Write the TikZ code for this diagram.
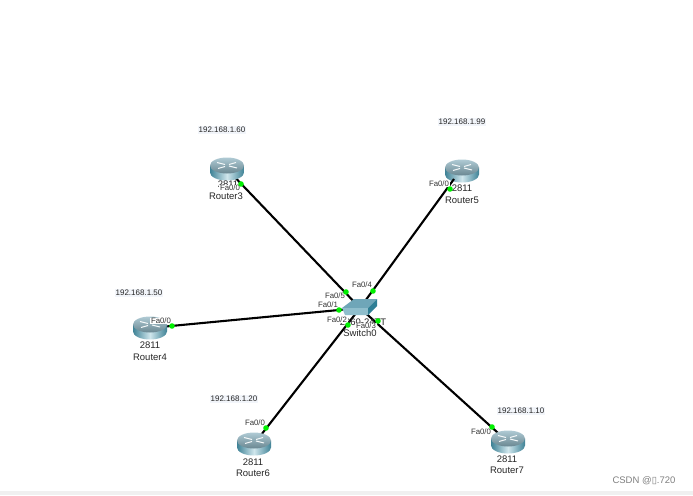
\documentclass[tikz,border=0pt]{standalone}
\usepackage{fontspec}
\setmainfont{Liberation Sans}
\definecolor{linkc}{HTML}{000000}
\definecolor{portc}{HTML}{00F000}
\definecolor{ipbg}{HTML}{F2F5FA}
\definecolor{rtop}{HTML}{8DB4C2}
\definecolor{rdark}{HTML}{3F8296}
\definecolor{rlight}{HTML}{CFE6EC}
\definecolor{swtop}{HTML}{6FA6B8}
\definecolor{swfront}{HTML}{8FBECC}
\definecolor{swside}{HTML}{2F7F95}
\tikzset{
  x=1pt,y=-1pt,
  link/.style={line width=2.1pt,draw=linkc},
  port/.style={circle,fill=portc,inner sep=0pt,minimum size=5.6pt},
  portlabel/.style={font=\fontsize{7.8}{8}\selectfont,text=black!80,fill=white,inner sep=.6pt},
  devlabel/.style={font=\fontsize{9.5}{10}\selectfont,text=black!85,inner sep=0pt},
  iplabel/.style={font=\fontsize{8}{8}\selectfont,text=black!85,fill=ipbg,inner sep=1pt},
  pics/routericon/.style={code={
    \path[left color=rdark,right color=rdark,middle color=rlight]
      (-17,-3.5) -- (-17,3.5) arc[start angle=180,end angle=360,x radius=17,y radius=-8] -- (17,-3.5) -- cycle;
    \path[top color=rtop!70!white,bottom color=rtop!75!black] (0,-3.5) ellipse[x radius=17,y radius=8];
    \draw[white!90!rtop,line width=1pt] (-10,-6.5) -- (-2,-4.5) (10,-1) -- (2,-3) (-9,-.5) -- (-2,-2.5) (9,-6.5) -- (2,-4.5);
  }}
}
\begin{document}
\begin{tikzpicture}
\useasboundingbox (0,0) rectangle (693,495);
\fill[white] (0,0) rectangle (693,495);
\fill[black!6] (0,491) rectangle (693,495);

\coordinate (sw) at (360,308);
\coordinate (c3) at (227,169);
\coordinate (c5) at (462,171);
\coordinate (c4) at (150,328);
\coordinate (c6) at (254,444);
\coordinate (c7) at (508,442);
\coordinate (e5) at (454,179);

% links
\draw[link] (c3) -- (sw);
\draw[link] (c4) -- (sw);
\draw[link] (c6) -- (sw);
\draw[link] (c7) -- (sw);

% routers
\pic at (c3) {routericon};
\pic at (c5) {routericon};
\pic at (c4) {routericon};
\pic at (c6) {routericon};
\pic at (c7) {routericon};
\draw[link] (e5) -- (sw);

% switch
\fill[swtop] (342,308) -- (354,299) -- (377,299) -- (368,308) -- cycle;
\fill[swfront] (342,308) -- (368,308) -- (368,315) -- (345,315) -- cycle;
\fill[swside] (368,308) -- (377,299) -- (377,306) -- (368,315) -- cycle;

% device labels
\node[devlabel] (m3) at (228,184) {2811};
\node[devlabel] (n3) at (226,196) {Router3};
\node[devlabel] (m5) at (462,188) {2811};
\node[devlabel] (n5) at (462,200) {Router5};
\node[devlabel] (m4) at (150,345) {2811};
\node[devlabel] (n4) at (150,357) {Router4};
\node[devlabel] (m6) at (253,462) {2811};
\node[devlabel] (n6) at (253,473) {Router6};
\node[devlabel] (m7) at (507,459) {2811};
\node[devlabel] (n7) at (507,470) {Router7};
\node[devlabel] (msw) at (363,322) {2960-24TT};
\node[devlabel] (nsw) at (360,333) {Switch0};

% port labels
\node[portlabel] (l3) at (230,188) {Fa0/0};
\node[portlabel] (l5) at (439,184) {Fa0/0};
\node[portlabel] (l4) at (161,321) {Fa0/0};
\node[portlabel] (l6) at (255,423) {Fa0/0};
\node[portlabel] (l7) at (481,432) {Fa0/0};
\node[portlabel] (ls5) at (335,296) {Fa0/5};
\node[portlabel] (ls4) at (362,285) {Fa0/4};
\node[portlabel] (ls1) at (328,305) {Fa0/1};
\node[portlabel] (ls2) at (337,320) {Fa0/2};
\node[portlabel] (ls3) at (366,326) {Fa0/3};

% ports
\node[port] (p3) at (241,184) {};
\node[port] (p5) at (450,189) {};
\node[port] (p4) at (172,326) {};
\node[port] (p6) at (266,428) {};
\node[port] (p7) at (492,427) {};
\node[port] (s5) at (346,292) {};
\node[port] (s4) at (373,291) {};
\node[port] (s1) at (339,310) {};
\node[port] (s2) at (348,325) {};
\node[port] (s3) at (378,321) {};

% IP labels
\node[iplabel] (ip3) at (222,130) {192.168.1.60};
\node[iplabel] (ip5) at (462,122) {192.168.1.99};
\node[iplabel] (ip4) at (139,293) {192.168.1.50};
\node[iplabel] (ip6) at (234,399) {192.168.1.20};
\node[iplabel] (ip7) at (521,411) {192.168.1.10};

\node[font=\fontsize{9.5}{10}\selectfont,text=black!50,inner sep=0pt] (wm) at (644,481) {CSDN @\fontspec{DejaVu Sans}\fontsize{9.5}{10}\selectfont ▯\fontspec{Liberation Sans}\fontsize{9.5}{10}\selectfont .720};
\end{tikzpicture}
\end{document}
